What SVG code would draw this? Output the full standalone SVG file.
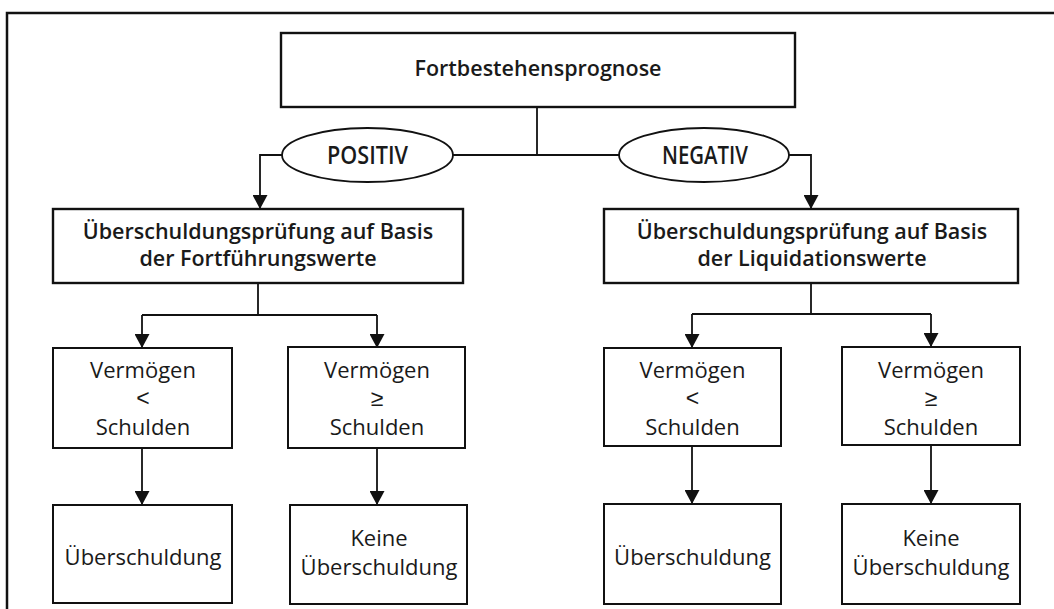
<svg xmlns="http://www.w3.org/2000/svg" width="1054" height="609" viewBox="0 0 1054 609">
  <style>
    .box { fill: #ffffff; stroke: #111111; stroke-width: 2; }
    .bold { stroke-width: 2.4; }
    .oval { fill: #ffffff; stroke: #111111; stroke-width: 1.8; }
    .conn { fill: none; stroke: #111111; stroke-width: 1.8; }
    .frame { fill: none; stroke: #111111; stroke-width: 2.5; }
    text { font-family: "Open Sans", "Noto Sans", "Liberation Sans", sans-serif; fill: #1a1a1a; text-anchor: middle; }
    .t22 { font-size: 22px; }
    .sym { font-family: "Liberation Sans", "Open Sans", sans-serif; font-size: 23px; }
    .t21b { font-size: 21.5px; font-weight: 600; }
    .oval-t { font-size: 25px; font-weight: 600; }
  </style>
  <defs>
    <marker id="arr" markerUnits="userSpaceOnUse" markerWidth="15" markerHeight="15" viewBox="0 0 14 15" refX="13" refY="7.5" orient="auto">
      <path d="M0,0 L14,7.5 L0,15 z" fill="#111111"/>
    </marker>
  </defs>

  <rect width="1054" height="609" fill="#ffffff"/>
  <path class="frame" d="M7,609 V13 H1054"/>

  <g id="connectors">
    <path class="conn" d="M537,107 V155"/>
    <path class="conn" d="M453,155 H619"/>
    <path class="conn" d="M282,155 H260 V208" marker-end="url(#arr)"/>
    <path class="conn" d="M789,155 H811 V208" marker-end="url(#arr)"/>
    <path class="conn" d="M258,283 V315"/>
    <path class="conn" d="M142,315 H377"/>
    <path class="conn" d="M142,315 V347" marker-end="url(#arr)"/>
    <path class="conn" d="M377,315 V347" marker-end="url(#arr)"/>
    <path class="conn" d="M811,283 V314"/>
    <path class="conn" d="M692,314 H931"/>
    <path class="conn" d="M692,314 V347" marker-end="url(#arr)"/>
    <path class="conn" d="M931,314 V346" marker-end="url(#arr)"/>
    <path class="conn" d="M142,448 V504" marker-end="url(#arr)"/>
    <path class="conn" d="M377,448 V504" marker-end="url(#arr)"/>
    <path class="conn" d="M692,446 V503" marker-end="url(#arr)"/>
    <path class="conn" d="M931,445 V503" marker-end="url(#arr)"/>
  </g>

  <g id="node-fortbestehensprognose">
    <rect class="box bold" x="281" y="33" width="514" height="74"/>
    <text class="t21b" x="538" y="76">Fortbestehensprognose</text>
  </g>

  <g id="node-positiv">
    <ellipse class="oval" cx="367.5" cy="155" rx="85.5" ry="27"/>
    <text class="oval-t" x="367.5" y="164" textLength="81" lengthAdjust="spacingAndGlyphs">POSITIV</text>
  </g>

  <g id="node-negativ">
    <ellipse class="oval" cx="704" cy="155" rx="85" ry="27"/>
    <text class="oval-t" x="705" y="164" textLength="86" lengthAdjust="spacingAndGlyphs">NEGATIV</text>
  </g>

  <g id="node-pruefung-fortfuehrung">
    <rect class="box bold" x="53" y="209" width="410" height="74"/>
    <text class="t21b" x="258" y="239">Überschuldungsprüfung auf Basis<tspan x="258" dy="27">der Fortführungswerte</tspan></text>
  </g>

  <g id="node-pruefung-liquidation">
    <rect class="box bold" x="604" y="209" width="414" height="74"/>
    <text class="t21b" x="812" y="239">Überschuldungsprüfung auf Basis<tspan x="812" dy="27">der Liquidationswerte</tspan></text>
  </g>

  <g id="node-left-kleiner">
    <rect class="box" x="53" y="348" width="179" height="100"/>
    <text class="t22" x="143" y="378">Vermögen</text>
    <text class="sym" x="143" y="406">&lt;</text>
    <text class="t22" x="143" y="435">Schulden</text>
  </g>

  <g id="node-left-groesser">
    <rect class="box" x="288" y="347" width="177" height="101"/>
    <text class="t22" x="377" y="378">Vermögen</text>
    <text class="sym" x="377" y="406">≥</text>
    <text class="t22" x="377" y="435">Schulden</text>
  </g>

  <g id="node-right-kleiner">
    <rect class="box" x="604" y="348" width="177" height="98"/>
    <text class="t22" x="692.5" y="378">Vermögen</text>
    <text class="sym" x="692.5" y="406">&lt;</text>
    <text class="t22" x="692.5" y="435">Schulden</text>
  </g>

  <g id="node-right-groesser">
    <rect class="box" x="842" y="347" width="178" height="98"/>
    <text class="t22" x="931" y="378">Vermögen</text>
    <text class="sym" x="931" y="406">≥</text>
    <text class="t22" x="931" y="435">Schulden</text>
  </g>

  <g id="node-left-ueberschuldung">
    <rect class="box" x="53" y="505" width="179" height="98"/>
    <text class="t22" x="143" y="565">Überschuldung</text>
  </g>

  <g id="node-left-keine">
    <rect class="box" x="290" y="505" width="177" height="99"/>
    <text class="t22" x="379" y="546">Keine<tspan x="379" dy="29">Überschuldung</tspan></text>
  </g>

  <g id="node-right-ueberschuldung">
    <rect class="box" x="604" y="504" width="177" height="100"/>
    <text class="t22" x="692.5" y="565">Überschuldung</text>
  </g>

  <g id="node-right-keine">
    <rect class="box" x="842" y="504" width="178" height="100"/>
    <text class="t22" x="931" y="546">Keine<tspan x="931" dy="29">Überschuldung</tspan></text>
  </g>
</svg>
